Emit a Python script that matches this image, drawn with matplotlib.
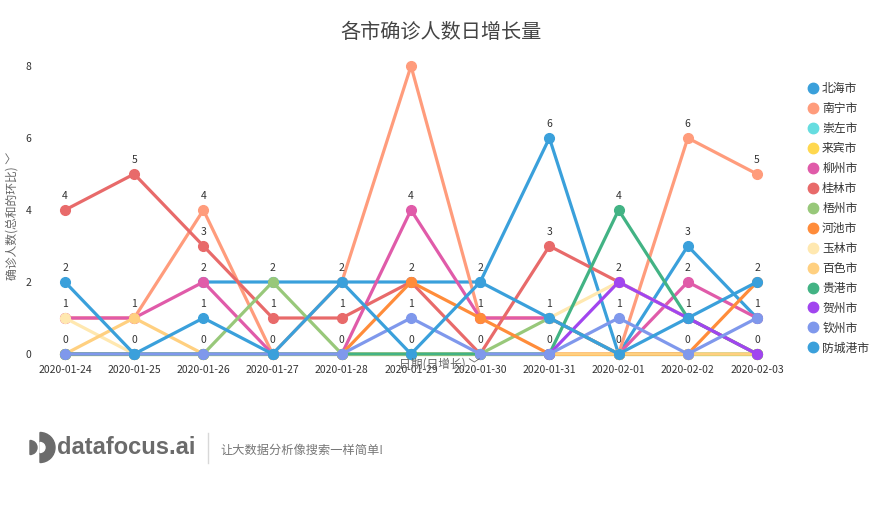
import numpy as np
import matplotlib
matplotlib.use("Agg")
import matplotlib.pyplot as plt
import matplotlib.transforms as mtransforms
from matplotlib.lines import Line2D
from matplotlib.patches import Wedge

plt.rcParams["font.family"] = ["Noto Sans CJK SC", "DejaVu Sans"]

nan = np.nan

# daily increase of confirmed cases per city
dates = ["2020-01-24", "2020-01-25", "2020-01-26", "2020-01-27", "2020-01-28", "2020-01-29",
         "2020-01-30", "2020-01-31", "2020-02-01", "2020-02-02", "2020-02-03"]
cities = ["北海市", "南宁市", "崇左市", "来宾市", "柳州市", "桂林市", "梧州市",
          "河池市", "玉林市", "百色市", "贵港市", "贺州市", "钦州市", "防城港市"]

beihai = [nan, nan, 2, 2, 2, 2, 2, 6, 0, 3, 1]
nanning = [1, 1, 4, 0, 2, 8, 1, 1, 0, 6, 5]
chongzuo = [0, 0, 0, 0, 0, 0, 0, 0, 0, 0, 0]
laibin = [0, 0, 0, 0, 0, 0, 0, 0, 0, 0, 0]
liuzhou = [1, 1, 2, 0, 0, 4, 1, 1, 0, 2, 1]
guilin = [4, 5, 3, 1, 1, 2, 0, 3, 2, 1, 0]
wuzhou = [0, 0, 0, 2, 0, 0, 0, 1, 0, 0, 0]
hechi = [0, 0, 0, 0, 0, 2, 1, 0, 0, 0, 2]
yulin = [1, 0, 0, 0, 0, 0, nan, 1, 2, 1, 0]
baise = [0, 1, 0, 0, 0, 0, 0, 0, 0, 0, 0]
guigang = [0, 0, 0, 0, 0, 0, 0, 0, 4, 1, 0]
hezhou = [nan, nan, nan, nan, nan, nan, nan, 0, 2, 1, 0]
qinzhou = [0, 0, 0, 0, 0, 1, 0, 0, 1, 0, 1]
fangchenggang = [2, 0, 1, 0, 2, 0, 2, 1, 0, 1, 2]

series = [beihai, nanning, chongzuo, laibin, liuzhou, guilin, wuzhou,
          hechi, yulin, baise, guigang, hezhou, qinzhou, fangchenggang]

palette = ["#3aa0db", "#ff9c7c", "#66dde0", "#ffd84f", "#e05ba9", "#e86a6a", "#98c87a",
           "#ff8c3a", "#ffe8b0", "#ffd080", "#42b384", "#a145ef", "#7f98ec", "#3aa0db"]

W, H = 881, 513
fig = plt.figure(figsize=(W / 100, H / 100), dpi=100)
ax = fig.add_axes([65 / W, 1 - 354 / H, (757 - 65) / W, (354 - 66) / H])

x = np.arange(len(dates))
for i, (name, vals, c) in enumerate(zip(cities, series, palette)):
    ax.plot(x, vals, color=c, lw=2.3, marker="o", ms=7, zorder=2 + i, clip_on=False,
            solid_capstyle="round")

# one label per distinct value at each date; labels above the top of the grid are cut
lab_tr = mtransforms.offset_copy(ax.transData, fig=fig, y=10, units="points")
clip = mtransforms.TransformedBbox(mtransforms.Bbox([[-0.1, 0], [1.1, 1]]), ax.transAxes)
table = np.array(series, dtype=float)
for j in x:
    col = table[:, j]
    for v in np.unique(col[~np.isnan(col)]):
        t = ax.text(j, v, f"{v:g}", transform=lab_tr, ha="center", va="center",
                    fontsize=7.5, color="#333333", zorder=50)
        t.set_clip_path(None)
        t.set_clip_box(clip)
        t.set_clip_on(True)

ax.set_xlim(0, len(dates) - 1)
ax.set_ylim(0, 8)
ax.set_xticks(x, dates)
ax.set_yticks([0, 2, 4, 6, 8])
ax.tick_params(axis="both", length=0, labelsize=7.5, labelcolor="#333333")
ax.tick_params(axis="x", pad=8)
ax.tick_params(axis="y", pad=24)
for s in ax.spines.values():
    s.set_visible(False)

handles = [Line2D([], [], color=c, marker="o", ls="none", ms=7.5) for c in palette]
ax.legend(handles, cities, loc="upper left", bbox_to_anchor=(807 / W, 1 - 82 / H),
          bbox_transform=fig.transFigure, frameon=False, fontsize=8.5, labelcolor="#333333",
          handlelength=1.0, handletextpad=0.28, labelspacing=0.59, borderpad=0, borderaxespad=0)

fig.text(441 / W, 1 - 32 / H, "各市确诊人数日增长量", ha="center", va="center",
         fontsize=14.5, color="#444444")
fig.text(440 / W, 1 - 364 / H, "日期(日增长) ﹀", ha="center", va="center",
         fontsize=8.5, color="#666666")
fig.text(12 / W, 1 - 216 / H, "确诊人数(总和的环比) ﹀", ha="center", va="center",
         rotation=90, fontsize=8.5, color="#666666")

# footer with logo
foot = fig.add_axes([0, 0, 1, 1], zorder=-1)
foot.set_xlim(0, W)
foot.set_ylim(H, 0)
foot.axis("off")
foot.add_patch(Wedge((30, 447.5), 7, -90, 90, color="#6b6b6b"))
foot.add_patch(Wedge((40, 447.5), 15, -90, 90, color="#6b6b6b"))
foot.add_patch(Wedge((40, 447.5), 5, -90, 90, color="white"))
foot.text(57, 448, "datafocus.ai", ha="left", va="center", fontsize=17, fontweight="bold",
          family="Liberation Sans", color="#6b6b6b")
foot.plot([208, 208], [433, 463], color="#d8d8d8", lw=1)
foot.text(220, 450, "让大数据分析像搜索一样简单!", ha="left", va="center", fontsize=8.8,
          color="#777777")

fig.savefig("out.png", dpi=100)
